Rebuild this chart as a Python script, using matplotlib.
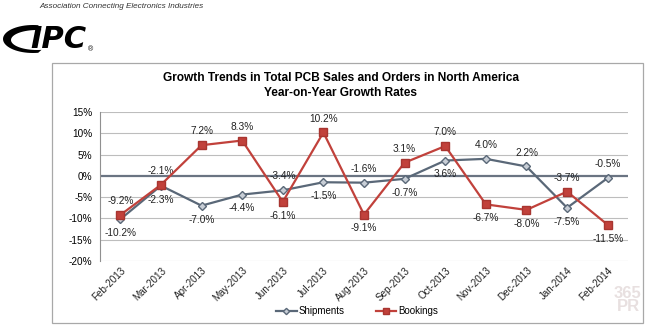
import numpy as np
import matplotlib.pyplot as plt
from matplotlib.patches import Rectangle, Polygon

plt.rcParams['font.family'] = ['Liberation Sans', 'DejaVu Sans']

months = ['Feb-2013', 'Mar-2013', 'Apr-2013', 'May-2013', 'Jun-2013', 'Jul-2013',
          'Aug-2013', 'Sep-2013', 'Oct-2013', 'Nov-2013', 'Dec-2013', 'Jan-2014', 'Feb-2014']
shipments = [-10.2, -2.3, -7.0, -4.4, -3.4, -1.5, -1.6, -0.7, 3.6, 4.0, 2.2, -7.5, -0.5]
bookings = [-9.2, -2.1, 7.2, 8.3, -6.1, 10.2, -9.1, 3.1, 7.0, -6.7, -8.0, -3.7, -11.5]
# where each data label sits: 1 above the point, -1 below
ship_side = [-1, -1, -1, -1, 1, -1, 1, -1, -1, 1, 1, -1, 1]
book_side = [1, 1, 1, 1, -1, 1, -1, 1, 1, -1, -1, 1, -1]

ship_col = '#5a6878'
book_col = '#c1413b'

fig = plt.figure(figsize=(6.5, 3.33), dpi=100)
W, H = 650, 333

def fx(px):
    return px / W

def fy(py):
    return 1 - py / H

# outer chart frame
fig.patches.append(Rectangle((fx(52), fy(323)), 591 / W, 260 / H, transform=fig.transFigure,
                             fill=False, edgecolor='#a8a8a8', linewidth=0.9))

# logo area
fig.text(fx(39), fy(7), 'Association Connecting Electronics Industries', fontsize=5.9,
         style='italic', color='#333333', va='center')
fig.text(fx(30), fy(39), 'IPC', fontsize=22, fontweight='bold', style='italic',
         family='DejaVu Sans', color='black', va='center')
fig.text(fx(88), fy(50), '®', fontsize=5, color='black', va='center')
t1 = np.radians(np.linspace(80, 280, 40))
outer = [(fx(33 + 30 * np.cos(a)), fy(39 - 14 * np.sin(a))) for a in t1]
inner = [(fx(37 + 26 * np.cos(a)), fy(40 - 10 * np.sin(a))) for a in t1[::-1]]
fig.patches.append(Polygon(outer + inner, closed=True, transform=fig.transFigure,
                           facecolor='black', edgecolor='none'))

fig.text(fx(341), fy(78), 'Growth Trends in Total PCB Sales and Orders in North America',
         ha='center', va='center', fontsize=8.6, fontweight='bold')
fig.text(fx(341), fy(93), 'Year-on-Year Growth Rates',
         ha='center', va='center', fontsize=8.6, fontweight='bold')

ax = fig.add_axes([fx(100), fy(261), 528 / W, 149 / H])
x = np.arange(len(months))

for yv in range(-20, 20, 5):
    if yv == 0:
        continue
    ax.axhline(yv, color='#bdbdbd', linewidth=0.8, zorder=0)
ax.axhline(0, color='#6a7482', linewidth=1.6, zorder=1)

ax.plot(x, shipments, color=ship_col, linewidth=1.6, marker='D', markersize=4,
        markerfacecolor='#c8ced6', markeredgecolor=ship_col, zorder=3, label='Shipments')
ax.plot(x, bookings, color=book_col, linewidth=1.6, marker='s', markersize=6,
        markerfacecolor=book_col, markeredgecolor='#a83530', zorder=4, label='Bookings')

for xi, v, s in zip(x, shipments, ship_side):
    ax.annotate(f'{v:.1f}%', (xi, v), xytext=(0, 10 * s), textcoords='offset points',
                ha='center', va='center', fontsize=7.3, color='#222222')
for xi, v, s in zip(x, bookings, book_side):
    ax.annotate(f'{v:.1f}%', (xi, v), xytext=(0, 10 * s), textcoords='offset points',
                ha='center', va='center', fontsize=7.3, color='#222222')

ax.set_xlim(-0.5, len(months) - 0.5)
ax.set_ylim(-20, 15)
ax.set_yticks(range(-20, 20, 5))
ax.set_yticklabels([f'{t}%' for t in range(-20, 20, 5)], fontsize=7.2)
ax.set_xticks(x)
ax.set_xticklabels(months, rotation=45, ha='right', va='top', rotation_mode='anchor',
                   fontsize=7.1, color='#222222')
ax.tick_params(axis='y', length=0, pad=5.5)
ax.tick_params(axis='x', length=0, pad=3)
for side in ['top', 'right', 'bottom']:
    ax.spines[side].set_visible(False)
ax.spines['left'].set_color('#909090')

ax.legend(loc='center', bbox_to_anchor=(fx(357), fy(311)), bbox_transform=fig.transFigure,
          ncol=2, frameon=False, fontsize=7, handlelength=2.1, handletextpad=0.2,
          columnspacing=3.2, markerscale=0.8, borderpad=0)

fig.text(fx(628), fy(300), '365\nPR', fontsize=12, fontweight='bold', color='#e8e0e0',
         ha='center', va='center', linespacing=0.9)

fig.savefig('out.png', dpi=100)
